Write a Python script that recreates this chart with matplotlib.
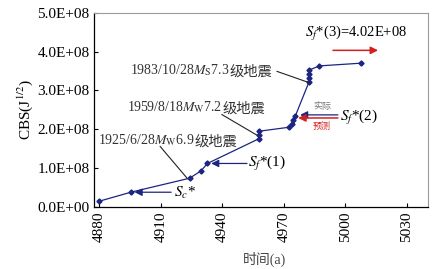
import numpy as np
import matplotlib.pyplot as plt
from matplotlib.ticker import FuncFormatter

# data
years = [4880, 4895.3, 4924, 4929.6, 4932.7, 4958, 4958, 4958, 4972.3,
         4974.2, 4974.6, 4975.6, 4982.3, 4982.3, 4982.3, 4982.3, 4987.3, 5007.7]
cbs = [1.5e7, 3.8e7, 7.4e7, 9.3e7, 1.12e8, 1.76e8, 1.86e8, 1.95e8, 2.05e8,
       2.14e8, 2.23e8, 2.34e8, 3.22e8, 3.32e8, 3.42e8, 3.52e8, 3.63e8, 3.70e8]
xticks = [4880, 4910, 4940, 4970, 5000, 5030]
yticks = [0, 1e8, 2e8, 3e8, 4e8, 5e8]

serif = ['Liberation Serif', 'Noto Sans CJK SC']
plt.rcParams['font.family'] = serif
plt.rcParams['mathtext.fontset'] = 'stix'

navy = '#1c2580'
red = '#d42020'

fig = plt.figure(figsize=(4.48, 2.69), dpi=100)
ax = fig.add_axes([0.2105, 0.2305, 0.7455, 0.7225])

ax.plot(years, cbs, color=navy, lw=0.9, marker='D', ms=2.6, mec=navy, mfc=navy)

ax.set_xlim(4877.5, 5040.5)
ax.set_ylim(0, 5e8)
ax.set_xticks(xticks)
ax.set_yticks(yticks)
ax.yaxis.set_major_formatter(FuncFormatter(lambda v, p: '%.1E' % v))
ax.tick_params(direction='in', length=3, width=0.8, labelsize=11)
for lab in ax.get_xticklabels():
    lab.set_rotation(90)
for s in ['top', 'right']:
    ax.spines[s].set_color('#9a9a9a')
for s in ['left', 'bottom']:
    ax.spines[s].set_linewidth(0.9)

ax.set_ylabel('CBS(J$^{1/2}$)', fontsize=11, labelpad=2)
ax.set_xlabel('时间(a)', fontsize=10, color='#444444', labelpad=2)
ax.xaxis.set_label_coords(0.51, -0.23)

arr = dict(arrowstyle='-|>', color=navy, lw=0.9, mutation_scale=11, shrinkA=0, shrinkB=2)
# Sc*
ax.annotate('', xy=(years[1] + 0.5, cbs[1]), xytext=(4915, cbs[1]), arrowprops=arr)
ax.text(4916.5, 0.36e8, r'$S_c$*', fontsize=11, va='center', ha='left')
# Sf*(1)
ax.annotate('', xy=(years[4] + 0.5, cbs[4]), xytext=(4952, cbs[4]), arrowprops=arr)
ax.text(4952.5, 1.12e8, r'$S_f$*(1)', fontsize=11, va='center', ha='left')
# Sf*(2)
ax.annotate('', xy=(years[11] + 1, 2.37e8), xytext=(4996.4, 2.37e8), arrowprops=arr)
ax.annotate('', xy=(4977, 2.29e8), xytext=(4996.4, 2.29e8),
            arrowprops=dict(arrowstyle='-|>', color=red, lw=1.1, mutation_scale=11,
                            shrinkA=0, shrinkB=0))
ax.text(4997.4, 2.3e8, r'$S_f$*(2)', fontsize=11, va='center', ha='left')
ax.text(4988.6, 2.58e8, '实际', fontsize=6.5, color='#777777', ha='center', va='center')
ax.text(4988.6, 2.06e8, '预测', fontsize=6.5, color=red, ha='center', va='center')
# Sf*(3)
ax.text(4980.3, 4.46e8, r'$S_f$*(3)=4.02E+08', fontsize=10.5, va='center', ha='left')
ax.annotate('', xy=(5016, 4.03e8), xytext=(4994, 4.03e8),
            arrowprops=dict(arrowstyle='-|>', color=red, lw=1.1, mutation_scale=11,
                            shrinkA=0, shrinkB=0))

# earthquake labels: latin/math part, then CJK part right after it
def quake_label(x, y, head):
    t = ax.text(x, y, head, ha='left', va='center', fontsize=10, color='#333333')
    ax.annotate('级地震', xy=(1, 0.42), xycoords=t, ha='left', va='center',
                fontsize=10.3, color='#333333', family='Noto Sans CJK SC')
    return t

lead = dict(arrowstyle='-', color='#222222', lw=0.8, shrinkA=0, shrinkB=0)
quake_label(4895, 3.51e8, '1983/10/28$M_{\\rm S}$7.3')
ax.annotate('', xy=(4982.3, 3.2e8), xytext=(4966.6, 3.49e8), arrowprops=lead)
quake_label(4893.5, 2.56e8, '1959/8/18$M_{\\rm W}$7.2')
ax.annotate('', xy=(4956.8, 1.85e8), xytext=(4939.7, 2.38e8), arrowprops=lead)
quake_label(4879.4, 1.72e8, '1925/6/28$M_{\\rm W}$6.9')
ax.annotate('', xy=(4922.8, 0.74e8), xytext=(4909.6, 1.56e8), arrowprops=lead)

fig.savefig('out.png', dpi=100)
